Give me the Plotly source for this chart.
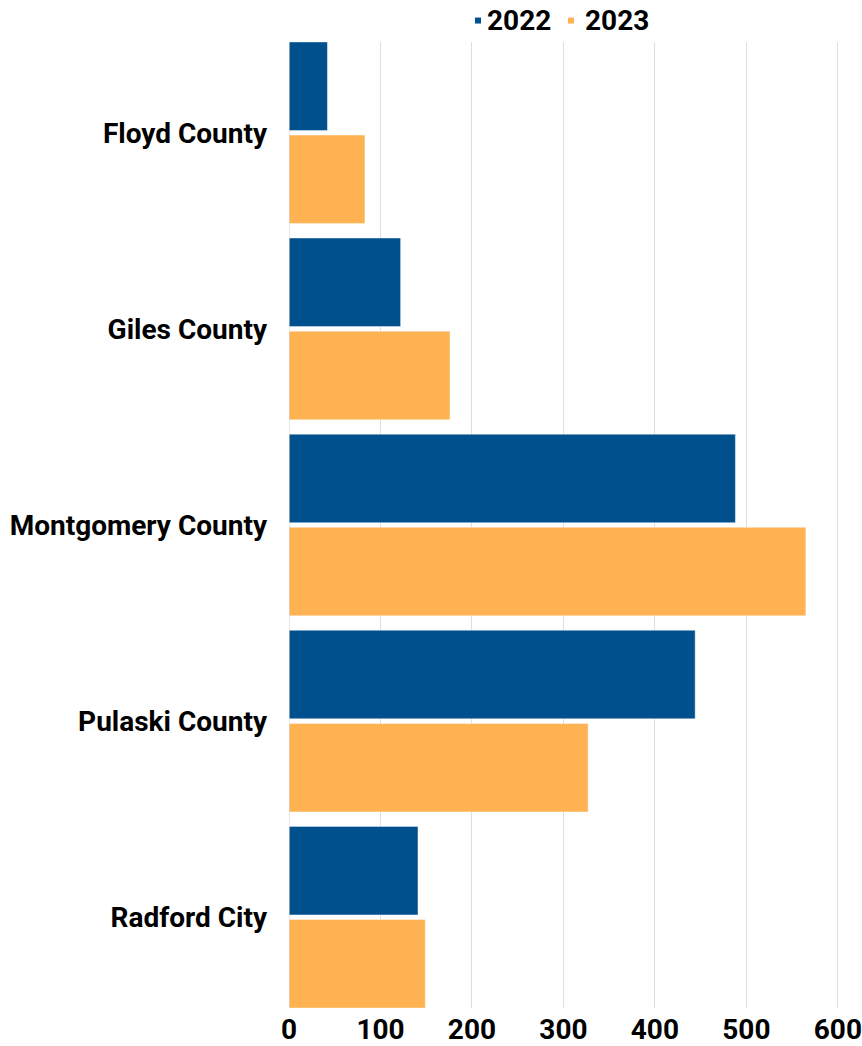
import plotly.graph_objects as go

categories = ["Floyd County", "Giles County", "Montgomery County", "Pulaski County", "Radford City"]
values_2022 = [42, 122, 488, 444, 141]
values_2023 = [83, 176, 565, 327, 149]
series_names = ["2022", "2023"]
x_ticks = [0, 100, 200, 300, 400, 500, 600]

BLUE = "#01508e"
ORANGE = "#feb252"
FONT = "Roboto"
FS = 28

fig = go.Figure()
for name, vals, col in [(series_names[0], values_2022, BLUE), (series_names[1], values_2023, ORANGE)]:
    fig.add_trace(go.Bar(
        y=categories, x=vals, orientation="h", name=name,
        marker=dict(color=col, line=dict(color="rgba(255,255,255,0.5)", width=0.8)),
        showlegend=False,
    ))

# manual legend (small square swatch + label), placed above the plot area
legend_items = [(series_names[0], BLUE, 0.3387, 0.3512), (series_names[1], ORANGE, 0.5054, 0.5269)]
ly = 1.0222
for name, col, mx, tx in legend_items:
    fig.add_shape(type="rect", xref="paper", yref="paper",
                  xsizemode="pixel", ysizemode="pixel", xanchor=mx, yanchor=ly,
                  x0=-3, x1=3, y0=-3, y1=3, fillcolor=col, line=dict(width=0))
    fig.add_annotation(x=tx, y=ly, xref="paper", yref="paper", text=name,
                       showarrow=False, xanchor="left", yanchor="middle",
                       font=dict(family=FONT, size=FS, color="black", weight="bold"))

fig.update_layout(
    width=862, height=1046,
    margin=dict(l=289, r=15, t=42, b=38, autoexpand=False),
    barmode="group", bargap=0.05, bargroupgap=0.05,
    plot_bgcolor="white", paper_bgcolor="white",
    font=dict(family=FONT, size=FS, color="black"),
    showlegend=False,
)
fig.update_xaxes(
    range=[0, 610], tickvals=x_ticks, ticktext=[str(v) for v in x_ticks],
    showgrid=True, gridcolor="#dedede", gridwidth=1,
    zeroline=False, showline=False, ticks="", automargin=False,
    tickfont=dict(family=FONT, size=FS, color="black", weight="bold"),
    ticklabelstandoff=2,
)
fig.update_yaxes(
    type="category", categoryorder="array", categoryarray=categories,
    range=[4.463, -0.463], showgrid=False, zeroline=False,
    showline=False, ticks="", automargin=False,
    tickfont=dict(family=FONT, size=FS, color="black", weight="bold"),
    ticklabelstandoff=21,
)
fig.add_shape(type="line", xref="x", yref="paper", x0=0, x1=0, y0=0, y1=1,
              line=dict(color="#cfcfcf", width=1), layer="above")

fig.write_html("out.html", config={"displayModeBar": False},
               post_script="document.body.style.margin='0';")
